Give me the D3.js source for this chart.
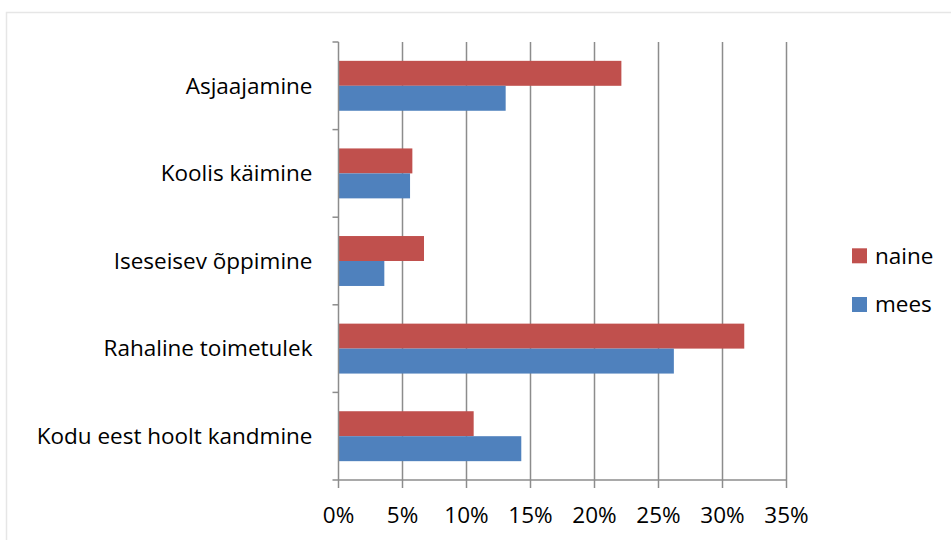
<!DOCTYPE html>
<html>
<head>
<meta charset="utf-8">
<script src="https://cdn.jsdelivr.net/npm/d3@7"></script>
<style>
  body { margin: 0; background: #fff; }
  text { font-family: "Open Sans", sans-serif; fill: #000; }
</style>
</head>
<body>
<div id="chart"></div>
<script>
// categories top to bottom
const categories = [
  'Asjaajamine',
  'Koolis käimine',
  'Iseseisev õppimine',
  'Rahaline toimetulek',
  'Kodu eest hoolt kandmine'
]
const seriesNames = ['naine', 'mees']
const naine = [22.1, 5.77, 6.68, 31.7, 10.56]
const mees = [13.06, 5.59, 3.58, 26.2, 14.28]
const xTicks = [0, 5, 10, 15, 20, 25, 30, 35]

const colors = { naine: '#C0504D', mees: '#4F81BD' }
const fontSize = 22.5

const W = 951
const H = 540
const margin = { top: 42, left: 338.5, right: 164.5, bottom: 60 }
const width = W - margin.left - margin.right
const height = H - margin.top - margin.bottom

const svg = d3
  .select('#chart')
  .append('svg')
  .attr('width', W)
  .attr('height', H)

// light chart frame
svg
  .append('rect')
  .attr('x', 6.5)
  .attr('y', 12.5)
  .attr('width', W)
  .attr('height', H)
  .attr('fill', 'none')
  .attr('stroke', '#e6e6e6')
  .attr('stroke-width', 1.5)

const g = svg
  .append('g')
  .attr('transform', `translate(${margin.left},${margin.top})`)

const x = d3.scaleLinear().domain([0, 35]).range([0, width])
const y = d3
  .scaleBand()
  .domain(categories)
  .range([0, height])
  .paddingInner(0.43)
  .paddingOuter(0.215)
const ySub = d3
  .scaleBand()
  .domain(seriesNames)
  .range([0, y.bandwidth()])

// vertical gridlines
g.selectAll('.grid')
  .data(xTicks.slice(1))
  .enter()
  .append('line')
  .attr('x1', d => x(d))
  .attr('x2', d => x(d))
  .attr('y1', 0)
  .attr('y2', height)
  .attr('stroke', '#8c8c8c')
  .attr('stroke-width', 1.5)

// bars
const rows = categories.map((c, i) => ({ cat: c, naine: naine[i], mees: mees[i] }))
const groups = g
  .selectAll('.cat')
  .data(rows)
  .enter()
  .append('g')
  .attr('transform', d => `translate(0,${y(d.cat)})`)

groups
  .selectAll('rect')
  .data(d => seriesNames.map(s => ({ s, v: d[s] })))
  .enter()
  .append('rect')
  .attr('x', 0)
  .attr('y', d => ySub(d.s))
  .attr('width', d => x(d.v))
  .attr('height', ySub.bandwidth())
  .attr('fill', d => colors[d.s])

// y axis (category boundaries as ticks)
const step = height / categories.length
g.append('line')
  .attr('x1', 0)
  .attr('x2', 0)
  .attr('y1', 0)
  .attr('y2', height)
  .attr('stroke', '#8c8c8c')
  .attr('stroke-width', 1.5)
g.selectAll('.ytick')
  .data(d3.range(categories.length + 1))
  .enter()
  .append('line')
  .attr('x1', -6)
  .attr('x2', 0)
  .attr('y1', d => d * step)
  .attr('y2', d => d * step)
  .attr('stroke', '#8c8c8c')
  .attr('stroke-width', 1.5)

g.selectAll('.ylabel')
  .data(categories)
  .enter()
  .append('text')
  .attr('x', -26)
  .attr('y', d => y(d) + y.bandwidth() / 2)
  .attr('dy', '0.35em')
  .attr('text-anchor', 'end')
  .attr('font-size', fontSize)
  .text(d => d)

// x axis
g.append('line')
  .attr('x1', 0)
  .attr('x2', width)
  .attr('y1', height)
  .attr('y2', height)
  .attr('stroke', '#8c8c8c')
  .attr('stroke-width', 1.5)
g.selectAll('.xtick')
  .data(xTicks)
  .enter()
  .append('line')
  .attr('x1', d => x(d))
  .attr('x2', d => x(d))
  .attr('y1', height)
  .attr('y2', height + 8)
  .attr('stroke', '#8c8c8c')
  .attr('stroke-width', 1.5)
g.selectAll('.xlabel')
  .data(xTicks)
  .enter()
  .append('text')
  .attr('x', d => x(d))
  .attr('y', height + 35)
  .attr('dy', '0.35em')
  .attr('text-anchor', 'middle')
  .attr('font-size', fontSize)
  .text(d => d + '%')

// legend
const legend = svg
  .selectAll('.legend')
  .data(seriesNames)
  .enter()
  .append('g')
  .attr('transform', (d, i) => `translate(852,${255.8 + i * 48.7})`)
legend
  .append('rect')
  .attr('x', 0)
  .attr('y', -7.5)
  .attr('width', 15)
  .attr('height', 15)
  .attr('fill', d => colors[d])
legend
  .append('text')
  .attr('x', 23)
  .attr('y', 0)
  .attr('dy', '0.35em')
  .attr('font-size', fontSize)
  .text(d => d)
</script>
</body>
</html>
